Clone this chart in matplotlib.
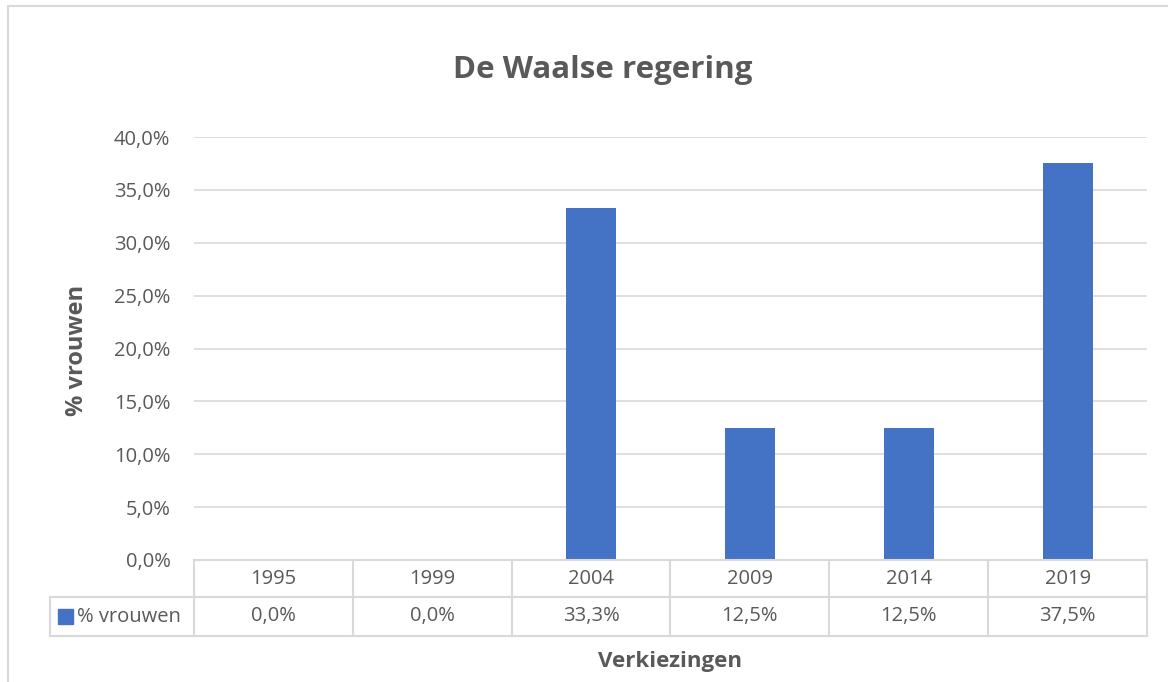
import matplotlib.pyplot as plt
from matplotlib.patches import Rectangle
from matplotlib.lines import Line2D

years = ['1995', '1999', '2004', '2009', '2014', '2019']
share_women = [0.0, 0.0, 33.3, 12.5, 12.5, 37.5]
series_name = '% vrouwen'
yticks = [0, 5, 10, 15, 20, 25, 30, 35, 40]

BAR = '#4472C4'
TXT = '#595959'
GRID = '#d9d9d9'
W, H = 1168, 682

plt.rcParams['font.family'] = ['Open Sans', 'DejaVu Sans']

fig = plt.figure(figsize=(W / 100, H / 100), dpi=100)


def fx(px):
    return px / W


def fy(py):
    return 1 - py / H


# outer chart frame
fig.patches.append(Rectangle((fx(8), -0.1), 1.2, fy(6) + 0.1, transform=fig.transFigure,
                             fill=False, edgecolor=GRID, lw=1.5))

ax = fig.add_axes([fx(194), fy(560), fx(1147) - fx(194), fy(137) - fy(560)])
x = list(range(len(years)))
ax.bar(x, share_women, width=0.315, color=BAR, zorder=3)
ax.set_xlim(-0.5, len(years) - 0.5)
ax.set_ylim(0, 40)
ax.set_yticks(yticks)
ax.set_yticklabels([f'{v:.1f}%'.replace('.', ',') for v in yticks], fontsize=14.5, color=TXT)
ax.tick_params(axis='y', length=0, pad=17)
ax.set_xticks([])
ax.grid(axis='y', color=GRID, lw=1.2, zorder=0)
for s in ax.spines.values():
    s.set_visible(False)

# data table under the axis
row1, row2, row3 = fy(560), fy(597), fy(636)
left_tab, left_leg, right_tab = fx(194), fx(50), fx(1147)
lines = [
    ((left_tab, right_tab), (row1, row1)),
    ((left_leg, right_tab), (row2, row2)),
    ((left_leg, right_tab), (row3, row3)),
    ((left_leg, left_leg), (row2, row3)),
]
col_w = (right_tab - left_tab) / len(years)
for i in range(len(years) + 1):
    xx = left_tab + i * col_w
    lines.append(((xx, xx), (row1, row3)))
for xs, ys in lines:
    fig.add_artist(Line2D(xs, ys, transform=fig.transFigure, color=GRID, lw=1.5))

for i, (yr, v) in enumerate(zip(years, share_women)):
    cx = left_tab + (i + 0.5) * col_w
    fig.text(cx, (row1 + row2) / 2, yr, ha='center', va='center', fontsize=14.5, color=TXT)
    fig.text(cx, (row2 + row3) / 2, f'{v:.1f}%'.replace('.', ','), ha='center', va='center',
             fontsize=14.5, color=TXT)

fig.patches.append(Rectangle((fx(58), fy(624)), fx(15), fy(609) - fy(624),
                             transform=fig.transFigure, color=BAR))
fig.text(fx(77), (row2 + row3) / 2, series_name, ha='left', va='center', fontsize=14.5, color=TXT)

fig.text(fx(603), fy(70), 'De Waalse regering', ha='center', va='center', fontsize=22.5,
         fontweight='bold', color=TXT)
fig.text(fx(77), fy(350), '% vrouwen', ha='center', va='center', rotation=90, fontsize=17,
         fontweight='bold', color=TXT)
fig.text(fx(670), fy(662), 'Verkiezingen', ha='center', va='center', fontsize=16,
         fontweight='bold', color=TXT)

fig.savefig('out.png', dpi=100, facecolor='white')
